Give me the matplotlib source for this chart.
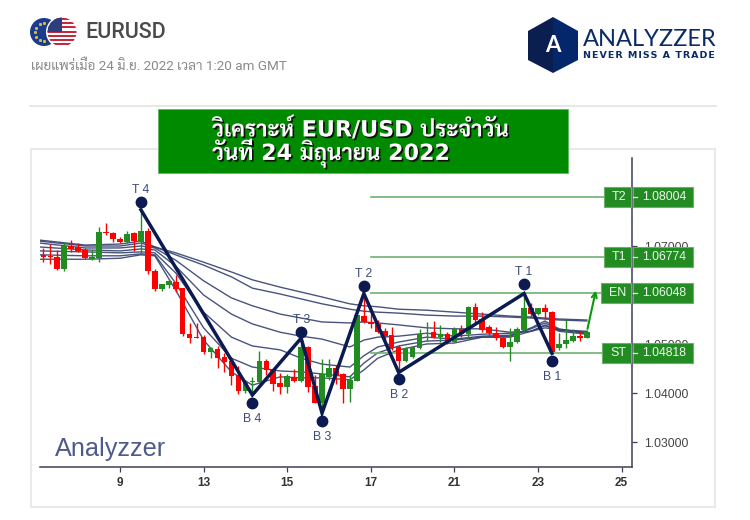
# EURUSD daily analysis chart (4H candles, zigzag and trade levels)

import numpy as np
import matplotlib
matplotlib.use("Agg")
import matplotlib.pyplot as plt
import matplotlib.patheffects as pe
from matplotlib.patches import Circle, Polygon, Rectangle

plt.rcParams['font.family'] = ['Liberation Sans', 'DejaVu Sans']

# ==============================
# Data
# ==============================

opens = [
    1.0682, 1.0680, 1.0677, 1.0653, 1.0700, 1.0697, 1.0691, 1.0674, 1.0676, 1.0729,
    1.0727, 1.0714, 1.0708, 1.0726, 1.0709, 1.0731, 1.0650, 1.0612, 1.0620, 1.0627,
    1.0614, 1.0521, 1.0514, 1.0515, 1.0484, 1.0489, 1.0473, 1.0466, 1.0437, 1.0404,
    1.0422, 1.0423, 1.0465, 1.0449, 1.0420, 1.0413, 1.0433, 1.0425, 1.0493, 1.0414,
    1.0379, 1.0433, 1.0452, 1.0439, 1.0408, 1.0425, 1.0557, 1.0544, 1.0541, 1.0527,
    1.0518, 1.0493, 1.0465, 1.0473, 1.0491, 1.0520, 1.0524, 1.0515, 1.0520, 1.0505,
    1.0531, 1.0520, 1.0576, 1.0551, 1.0534, 1.0522, 1.0513, 1.0494, 1.0505, 1.0529,
    1.0574, 1.0561, 1.0573, 1.0566, 1.0491, 1.0500, 1.0507, 1.0516, 1.0513,
]
closes = [
    1.0678, 1.0677, 1.0653, 1.0699, 1.0693, 1.0690, 1.0675, 1.0678, 1.0729, 1.0726,
    1.0714, 1.0708, 1.0725, 1.0711, 1.0731, 1.0649, 1.0612, 1.0622, 1.0629, 1.0612,
    1.0520, 1.0513, 1.0512, 1.0483, 1.0491, 1.0472, 1.0463, 1.0435, 1.0404, 1.0422,
    1.0425, 1.0465, 1.0447, 1.0418, 1.0413, 1.0435, 1.0425, 1.0494, 1.0413, 1.0380,
    1.0439, 1.0452, 1.0435, 1.0408, 1.0427, 1.0559, 1.0544, 1.0540, 1.0525, 1.0517,
    1.0491, 1.0465, 1.0491, 1.0493, 1.0520, 1.0523, 1.0515, 1.0520, 1.0505, 1.0531,
    1.0520, 1.0576, 1.0549, 1.0529, 1.0522, 1.0512, 1.0493, 1.0505, 1.0530, 1.0573,
    1.0561, 1.0573, 1.0566, 1.0484, 1.0500, 1.0508, 1.0517, 1.0513, 1.0524,
]
highs = [
    1.0695, 1.0704, 1.0691, 1.0708, 1.0712, 1.0706, 1.0695, 1.0691, 1.0738, 1.0746,
    1.0729, 1.0719, 1.0731, 1.0729, 1.0774, 1.0736, 1.0653, 1.0622, 1.0633, 1.0641,
    1.0614, 1.0542, 1.0542, 1.0518, 1.0493, 1.0496, 1.0481, 1.0471, 1.0455, 1.0423,
    1.0433, 1.0486, 1.0469, 1.0450, 1.0440, 1.0439, 1.0450, 1.0512, 1.0496, 1.0437,
    1.0469, 1.0469, 1.0457, 1.0440, 1.0437, 1.0559, 1.0603, 1.0569, 1.0549, 1.0532,
    1.0534, 1.0498, 1.0493, 1.0495, 1.0530, 1.0544, 1.0546, 1.0539, 1.0525, 1.0535,
    1.0539, 1.0578, 1.0583, 1.0566, 1.0539, 1.0535, 1.0515, 1.0532, 1.0535, 1.0603,
    1.0583, 1.0574, 1.0581, 1.0568, 1.0522, 1.0552, 1.0530, 1.0527, 1.0529,
]
lows = [
    1.0668, 1.0663, 1.0651, 1.0649, 1.0688, 1.0687, 1.0674, 1.0672, 1.0668, 1.0723,
    1.0709, 1.0706, 1.0706, 1.0690, 1.0686, 1.0642, 1.0608, 1.0608, 1.0615, 1.0606,
    1.0517, 1.0503, 1.0512, 1.0480, 1.0472, 1.0452, 1.0442, 1.0416, 1.0397, 1.0399,
    1.0396, 1.0420, 1.0437, 1.0404, 1.0397, 1.0401, 1.0423, 1.0423, 1.0403, 1.0379,
    1.0359, 1.0427, 1.0418, 1.0380, 1.0382, 1.0425, 1.0542, 1.0532, 1.0522, 1.0508,
    1.0488, 1.0442, 1.0464, 1.0471, 1.0489, 1.0507, 1.0512, 1.0505, 1.0500, 1.0505,
    1.0515, 1.0512, 1.0542, 1.0525, 1.0518, 1.0508, 1.0491, 1.0466, 1.0503, 1.0525,
    1.0556, 1.0559, 1.0552, 1.0481, 1.0488, 1.0491, 1.0505, 1.0507, 1.0512,
]

ma_bars = [-11.5, -5, 0, 3, 5, 8, 12, 16, 19, 23, 26, 29, 33, 35, 37, 40, 44, 48, 52, 56, 59, 61, 63, 67]
ma_a = [1.0712, 1.0702, 1.0704, 1.0710, 1.0698, 1.0686, 1.0667, 1.0647, 1.0631, 1.0616, 1.0606, 1.0596,
        1.0582, 1.0578, 1.0576, 1.0571, 1.0569, 1.0565, 1.0561, 1.0557, 1.0555, 1.0553, 1.0551, 1.0549]
ma_b = [1.0710, 1.0700, 1.0700, 1.0706, 1.0698, 1.0682, 1.0661, 1.0637, 1.0614, 1.0602, 1.0592, 1.0582,
        1.0571, 1.0567, 1.0565, 1.0563, 1.0559, 1.0557, 1.0557, 1.0555, 1.0553, 1.0551, 1.0549, 1.0547]
ma_c = [1.0706, 1.0696, 1.0696, 1.0700, 1.0696, 1.0671, 1.0629, 1.0594, 1.0578, 1.0561, 1.0553, 1.0545,
        1.0543, 1.0545, 1.0543, 1.0539, 1.0533, 1.0531, 1.0531, 1.0524, 1.0526, 1.0533, 1.0529, 1.0526]
ma_d = [1.0698, 1.0692, 1.0690, 1.0694, 1.0692, 1.0659, 1.0600, 1.0561, 1.0541, 1.0524, 1.0516, 1.0510,
        1.0494, 1.0508, 1.0514, 1.0516, 1.0522, 1.0516, 1.0520, 1.0522, 1.0526, 1.0537, 1.0529, 1.0524]
ma_e = [1.0690, 1.0688, 1.0686, 1.0688, 1.0686, 1.0645, 1.0565, 1.0514, 1.0496, 1.0488, 1.0471, 1.0459,
        1.0453, 1.0476, 1.0494, 1.0504, 1.0514, 1.0510, 1.0516, 1.0518, 1.0531, 1.0543, 1.0529, 1.0522]
ma_f = [1.0682, 1.0680, 1.0680, 1.0684, 1.0682, 1.0624, 1.0533, 1.0471, 1.0453, 1.0445, 1.0443, 1.0439,
        1.0433, 1.0461, 1.0482, 1.0496, 1.0506, 1.0508, 1.0514, 1.0516, 1.0533, 1.0547, 1.0531, 1.0522]
ma_g = [1.0673, 1.0673, 1.0675, 1.0682, 1.0680, 1.0610, 1.0508, 1.0443, 1.0416, 1.0433, 1.0431, 1.0431,
        1.0427, 1.0447, 1.0471, 1.0488, 1.0500, 1.0502, 1.0514, 1.0514, 1.0526, 1.0539, 1.0526, 1.0520]

# Zigzag between the swing points
zig_bars = [3, 19, 26, 29, 35, 40, 58, 62]
zig_prices = [1.0774, 1.0396, 1.0512, 1.0359, 1.0603, 1.0442, 1.0603, 1.0481]
dot_prices = [1.0790, 1.0380, 1.0525, 1.0343, 1.0618, 1.0429, 1.0622, 1.0466]
dot_labels = ['T 4', 'B 4', 'T 3', 'B 3', 'T 2', 'B 2', 'T 1', 'B 1']

level_names = ['T2', 'T1', 'EN', 'ST']
level_prices = [1.08004, 1.06774, 1.06048, 1.04818]
level_left_px = [604, 604, 601, 602]

arrow_bars = [67.1, 68.3]
arrow_prices = [1.0531, 1.0609]

xtick_bars = [0, 12, 24, 36, 48, 60, 72]
xtick_labels = ['9', '13', '15', '17', '21', '23', '25']
ytick_prices = [1.03, 1.04, 1.05, 1.06, 1.07, 1.08]
# 1.06 and 1.08 are covered by the EN and T2 boxes
ytick_labels = ['1.03000', '1.04000', '1.05000', '', '1.07000', '']

thai_title = ['DejaVu Sans', 'Sarabun', 'Noto Sans Thai']
thai_note = ['Roboto', 'Sarabun', 'Noto Sans Thai', 'DejaVu Sans']

# ==============================
# Figure and axes
# ==============================

fig = plt.figure(figsize=(7.5, 5.2), dpi=100, facecolor='white')
ax = fig.add_axes([40 / 750, 1 - 467 / 520, (632 - 40) / 750, (467 - 158) / 520])
ax.set_xlim(-11.48, 73.49)
ax.set_ylim(1.0249, 1.08796)

# page level things are placed in pixels on this layer
page = fig.add_axes([0, 0, 1, 1], zorder=5)
page.set_xlim(0, 750)
page.set_ylim(520, 0)
page.axis('off')
page.patch.set_alpha(0)

# ==============================
# Averages, candles, zigzag
# ==============================

for ma in [ma_a, ma_b, ma_c, ma_d, ma_e, ma_f, ma_g]:
    ax.plot(ma_bars, ma, color='#35416f', lw=1.0, alpha=0.9, zorder=2)

bars = np.arange(-11, 68)
opens = np.array(opens)
closes = np.array(closes)
colors = np.where(closes >= opens, '#228b22', '#ff0000')

ax.vlines(bars, lows, highs, colors=colors, lw=1.0, zorder=3)
ax.bar(bars, np.maximum(np.abs(closes - opens), 0.00015), bottom=np.minimum(opens, closes),
       width=0.8, color=colors, zorder=4)

ax.plot(zig_bars, zig_prices, color='#0b1a50', lw=2.5, zorder=6, solid_joinstyle='miter')
ax.plot(zig_bars, dot_prices, 'o', color='#0b1a50', ms=7.5, zorder=7, ls='none')

for bar, price, name in zip(zig_bars, dot_prices, dot_labels):
    offset = 8.5 if name[0] == 'T' else -11.5
    ax.annotate(name, (bar, price), xytext=(0, offset), textcoords='offset points',
                ha='center', va='center', fontsize=8.8, color='#3c4a78', zorder=7)

# ==============================
# Levels
# ==============================

for price in level_prices:
    ax.plot([36, 73.49], [price, price], color='#6fb26f', lw=1.2, zorder=2)

ax.annotate('', xy=(arrow_bars[1], arrow_prices[1]), xytext=(arrow_bars[0], arrow_prices[0]),
            arrowprops=dict(arrowstyle='->', color='#0a9a0a', lw=1.5, shrinkA=0, shrinkB=0,
                            mutation_scale=9), zorder=6)

# ==============================
# Axis styling
# ==============================

ax.spines['top'].set_visible(False)
ax.spines['left'].set_visible(False)
ax.spines['right'].set_color('#3f3f5a')
ax.spines['bottom'].set_color('#3f3f5a')
ax.spines['right'].set_linewidth(1.1)
ax.spines['bottom'].set_linewidth(1.1)

ax.yaxis.tick_right()
ax.set_yticks(ytick_prices)
ax.set_yticklabels(ytick_labels, fontsize=8.8, color='#444444')
ax.tick_params(axis='y', length=3.5, width=0.9, color='#3f3f5a', pad=5)
ax.set_xticks(xtick_bars)
ax.set_xticklabels(xtick_labels, fontsize=8.5, fontweight='bold', color='#333333')
ax.tick_params(axis='x', length=3.5, width=0.9, color='#3f3f5a', pad=4)

page.text(55, 449, 'Analyzzer', fontsize=18.2, color='#4d5a8c', va='center', ha='left')

# level boxes sit on top of the tick labels
for name, price, left in zip(level_names, level_prices, level_left_px):
    y = 520 - ax.transData.transform((0, price))[1]
    page.add_patch(Rectangle((left, y - 10), 631 - left, 20, fc='#228b22', ec='#69b069', lw=0.8))
    page.add_patch(Rectangle((632.5, y - 10), 60, 20, fc='#228b22', ec='#69b069', lw=0.8))
    page.plot([632.5, 637], [y, y], color='#e8f5e8', lw=0.9)
    page.text(626, y, name, color='#eef7ee', fontsize=9, ha='right', va='center')
    page.text(642, y, '%.5f' % price, color='#eef7ee', fontsize=8.8, ha='left', va='center')

# ==============================
# Page furniture
# ==============================

page.add_patch(Rectangle((31, 149), 684, 358, fc='none', ec='#e9e9e9', lw=1.5, zorder=0))
page.plot([30, 716], [105.5, 105.5], color='#e3e3e3', lw=1.2)

# flags
eu = Circle((44, 32), 14, fc='#1c3b8c', ec='none')
page.add_patch(eu)
for a in np.deg2rad(np.arange(90, 271, 30)):
    page.plot(44 + 9 * np.cos(a), 32 + 9 * np.sin(a), 's', color='#d8c040', ms=1.1)

page.add_patch(Circle((62, 32), 16, fc='white', ec='none'))
us_clip = Circle((62, 32), 14.5, fc='white', ec='none')
page.add_patch(us_clip)
for i in range(7):
    s = Rectangle((46, 18 + i * 4.2), 32, 2.1, fc='#c8283c', ec='none')
    page.add_patch(s)
    s.set_clip_path(us_clip)
canton = Rectangle((46, 17), 16, 15, fc='#2b3f7e', ec='none')
page.add_patch(canton)
canton.set_clip_path(us_clip)

page.text(85, 32, 'EURUSD', fontsize=15.5, fontweight=500, color='#4a4a4a',
          family=['Roboto', 'DejaVu Sans'], ha='left', va='center')
page.text(31, 66, 'เผยแพร่เมื่อ 24 มิ.ย. 2022 เวลา 1:20 am GMT', fontsize=9.7, color='#8a8a8a',
          family=thai_note, ha='left', va='center')

# logo
page.add_patch(Polygon([(553, 17), (553, 73), (528, 60), (528, 31)], fc='#0a1f4f', ec='none'))
page.add_patch(Polygon([(553, 17), (578, 31), (578, 60), (553, 73)], fc='#04266b', ec='none'))
page.text(553, 46, 'A', fontsize=16, fontweight='bold', color='white', ha='center', va='center',
          family=['Lato', 'DejaVu Sans'])
page.text(583, 40, 'ANALYZZER', fontsize=17, color='#0b2a66', ha='left', va='center',
          family=['Lato', 'DejaVu Sans'])
page.text(583, 56, '\u200a'.join('NEVER MISS A TRADE'), fontsize=6.8, color='#0b2a66', fontweight='bold',
          ha='left', va='center', family=['DejaVu Sans'])

# banner
page.add_patch(Rectangle((157.5, 108.5), 410, 64, fc='#008a00', ec='#5fb85f', lw=0.6))
shadow = [pe.withSimplePatchShadow(offset=(1.2, -1.2), shadow_rgbFace='#111111', alpha=1.0)]
page.text(212, 129, 'วิเคราะห์ EUR/USD ประจำวัน', fontsize=16, fontweight='bold', color='white',
          family=thai_title, ha='left', va='center', path_effects=shadow)
page.text(212, 153, 'วันที่ 24 มิถุนายน 2022', fontsize=16, fontweight='bold', color='white',
          family=thai_title, ha='left', va='center', path_effects=shadow)

fig.savefig('out.png', dpi=100)
